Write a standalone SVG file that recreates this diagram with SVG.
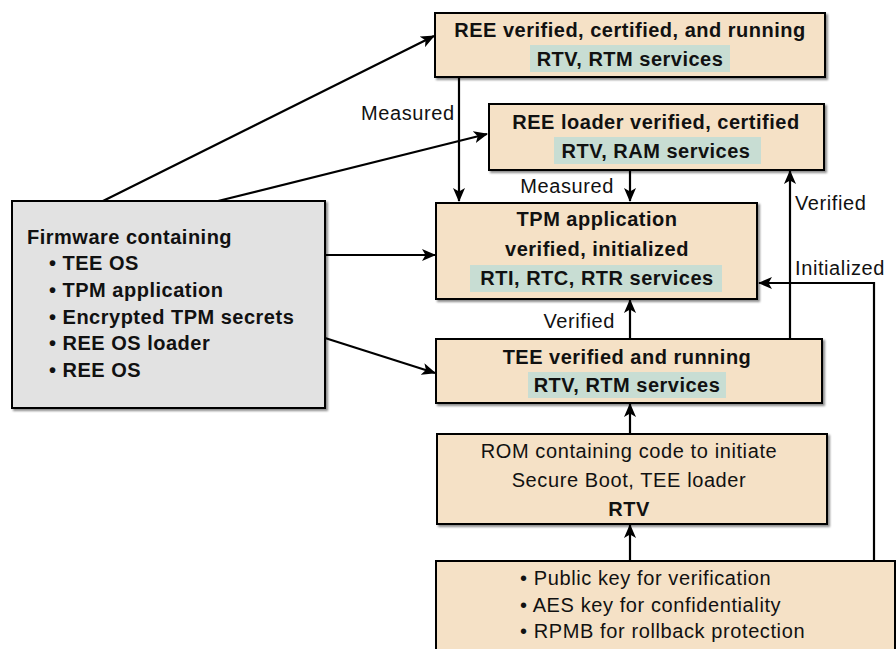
<svg xmlns="http://www.w3.org/2000/svg" width="896" height="649" viewBox="0 0 896 649">
  <defs>
    <marker id="arrow" viewBox="0 0 14 12" refX="13" refY="6" markerWidth="14" markerHeight="12" markerUnits="userSpaceOnUse" orient="auto">
      <path d="M0,0 L14,6 L0,12 L3.5,6 Z" fill="#000"/>
    </marker>
    <filter id="shadow" x="-5%" y="-5%" width="110%" height="115%">
      <feDropShadow dx="2" dy="2" stdDeviation="1.2" flood-color="#000" flood-opacity="0.45"/>
    </filter>
  </defs>
  <style>
    .box { fill: #f5e1c6; stroke: #000; stroke-width: 2; filter: url(#shadow); }
    .fw { fill: #e2e2e2; stroke: #000; stroke-width: 2; filter: url(#shadow); }
    .hl { fill: #c8ddd3; }
    text { font-family: "Liberation Sans", Arial, sans-serif; font-size: 20px; letter-spacing: 0.6px; fill: #111; }
    .b { font-weight: bold; letter-spacing: 0.5px; }
    .c { text-anchor: middle; }
    .conn line, .conn polyline { stroke: #000; stroke-width: 2.2; fill: none; }
  </style>

  <rect width="896" height="649" fill="#fff"/>

  <!-- connectors -->
  <g id="connectors" class="conn">
    <line x1="103" y1="201" x2="434" y2="36" marker-end="url(#arrow)"/>
    <line x1="218" y1="201" x2="487" y2="134" marker-end="url(#arrow)"/>
    <line x1="325" y1="255" x2="435" y2="255" marker-end="url(#arrow)"/>
    <line x1="325" y1="338" x2="435" y2="373" marker-end="url(#arrow)"/>
    <line x1="459" y1="77" x2="459" y2="201" marker-end="url(#arrow)"/>
    <line x1="630" y1="170" x2="630" y2="201" marker-end="url(#arrow)"/>
    <line x1="790" y1="339" x2="790" y2="171" marker-end="url(#arrow)"/>
    <polyline points="874,561 874,283 759,283" marker-end="url(#arrow)"/>
    <line x1="630" y1="339" x2="630" y2="300" marker-end="url(#arrow)"/>
    <line x1="630" y1="434" x2="630" y2="404" marker-end="url(#arrow)"/>
    <line x1="630" y1="561" x2="630" y2="525" marker-end="url(#arrow)"/>
    <text x="361" y="120">Measured</text>
    <text x="614" y="193" text-anchor="end">Measured</text>
    <text x="795" y="210">Verified</text>
    <text x="795" y="275">Initialized</text>
    <text x="615" y="328" text-anchor="end">Verified</text>
  </g>

  <!-- REE verified, certified, and running -->
  <g id="ree-running">
    <rect class="box" x="435" y="13" width="390" height="64"/>
    <rect class="hl" x="530" y="45" width="200" height="27"/>
    <text x="630" y="37" class="b c">REE verified, certified, and running</text>
    <text x="630" y="66" class="b c">RTV, RTM services</text>
  </g>

  <!-- REE loader -->
  <g id="ree-loader">
    <rect class="box" x="489" y="104" width="335" height="66"/>
    <rect class="hl" x="554" y="137" width="207" height="27"/>
    <text x="656" y="129" class="b c">REE loader verified, certified</text>
    <text x="656" y="158" class="b c">RTV, RAM services</text>
  </g>

  <!-- TPM application -->
  <g id="tpm-app">
    <rect class="box" x="436" y="203" width="321" height="96"/>
    <rect class="hl" x="470" y="265" width="252" height="27"/>
    <text x="597" y="226" class="b c">TPM application</text>
    <text x="597" y="256" class="b c">verified, initialized</text>
    <text x="597" y="285" class="b c">RTI, RTC, RTR services</text>
  </g>

  <!-- TEE verified and running -->
  <g id="tee-running">
    <rect class="box" x="436" y="339" width="386" height="64"/>
    <rect class="hl" x="528" y="372" width="198" height="26"/>
    <text x="627" y="364" class="b c">TEE verified and running</text>
    <text x="627" y="392" class="b c">RTV, RTM services</text>
  </g>

  <!-- ROM -->
  <g id="rom">
    <rect class="box" x="437" y="434" width="390" height="90"/>
    <text x="629" y="458" class="c">ROM containing code to initiate</text>
    <text x="629" y="487" class="c">Secure Boot, TEE loader</text>
    <text x="629" y="516" class="b c">RTV</text>
  </g>

  <!-- Hardware keys -->
  <g id="keys">
    <rect class="box" x="436" y="561" width="459" height="100"/>
    <text x="520" y="585">• Public key for verification</text>
    <text x="520" y="612">• AES key for confidentiality</text>
    <text x="520" y="638">• RPMB for rollback protection</text>
  </g>

  <!-- Firmware -->
  <g id="firmware">
    <rect class="fw" x="12" y="201" width="313" height="207"/>
    <text x="27" y="244" class="b">Firmware containing</text>
    <text x="49" y="270" class="b">• TEE OS</text>
    <text x="49" y="297" class="b">• TPM application</text>
    <text x="49" y="324" class="b">• Encrypted TPM secrets</text>
    <text x="49" y="350" class="b">• REE OS loader</text>
    <text x="49" y="377" class="b">• REE OS</text>
  </g>
</svg>
